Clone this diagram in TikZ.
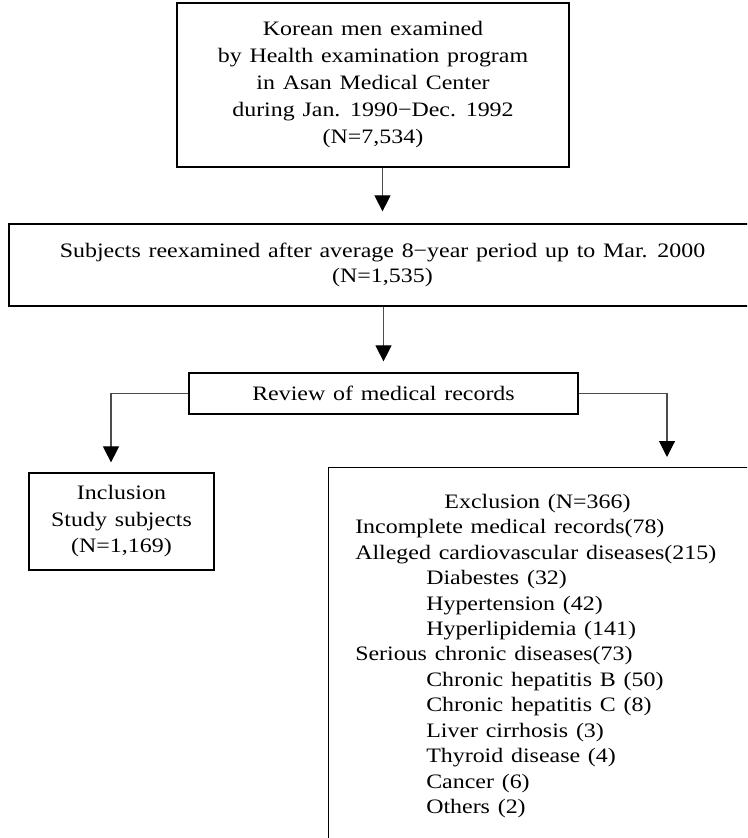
\documentclass[tikz,border=0pt]{standalone}
\usepackage{fontspec}
\setmainfont{Liberation Serif}[FakeStretch=1.165,WordSpace=1.3]
\usetikzlibrary{arrows.meta,calc}
\begin{document}
\begin{tikzpicture}[x=0.75pt,y=-0.75pt,
  every node/.style={font=\fontsize{15.4pt}{19pt}\selectfont},
  box/.style={draw=black,line width=0.9pt,rectangle,inner sep=0pt,align=center},
  conn/.style={draw=black!70,line width=0.8pt,-{Triangle[width=12pt,length=12pt,color=black]}},
  txt/.style={inner sep=0pt}
]
\clip (0,0) rectangle (747,838);
\fill[white] (0,0) rectangle (747,838);
\node[box,minimum width=294pt,minimum height=123pt,font=\fontsize{15.4pt}{20.25pt}\selectfont] (b1) at (373,85)
  {Korean men examined\\by Health examination program\\in Asan Medical Center\\during Jan. 1990−Dec. 1992\\(N=7,534)};
\node[box,minimum width=560.25pt,minimum height=61.5pt,font=\fontsize{15.4pt}{18.75pt}\selectfont] (b2) at (382.5,265)
  {Subjects reexamined after average 8−year period up to Mar. 2000\\(N=1,535)};
\node[box,minimum width=291.75pt,minimum height=30.75pt] (rev) at (383.5,393.5) {Review of medical records};
\node[box,minimum width=138.75pt,minimum height=72.75pt,font=\fontsize{15.4pt}{19.9pt}\selectfont] (inc) at (121.5,521.5)
  {Inclusion\\Study subjects\\(N=1,169)};
\node[box,anchor=north west,minimum width=525pt,minimum height=300pt] (exc) at (328,467) {};
\draw[conn,shorten >=9pt] (b1.south -| b2.north) -- (b2.north);
\draw[conn,shorten >=8.25pt] (b2.south -| rev.north) -- (rev.north);
\draw[conn,shorten >=7.5pt] (rev.west) -| ($(inc.north)+(-10.5,0)$);
\draw[conn,shorten >=7.5pt] (rev.east) -| ($(exc.north west)+(339,0)$);
\node[txt,anchor=base] (exh) at (537.5,508.4) {Exclusion (N=366)};
\foreach \d/\t [count=\k] in {
  0/Incomplete medical records(78),
  0/Alleged cardiovascular diseases(215),
  1/Diabestes (32),
  1/Hypertension (42),
  1/Hyperlipidemia (141),
  0/Serious chronic diseases(73),
  1/Chronic hepatitis B (50),
  1/Chronic hepatitis C (8),
  1/Liver cirrhosis (3),
  1/Thyroid disease (4),
  1/Cancer (6),
  1/Others (2)}
  \node[txt,anchor=base west] (ex\k) at (355+71*\d, 508.4+25.42*\k) {\t};
\end{tikzpicture}
\end{document}
